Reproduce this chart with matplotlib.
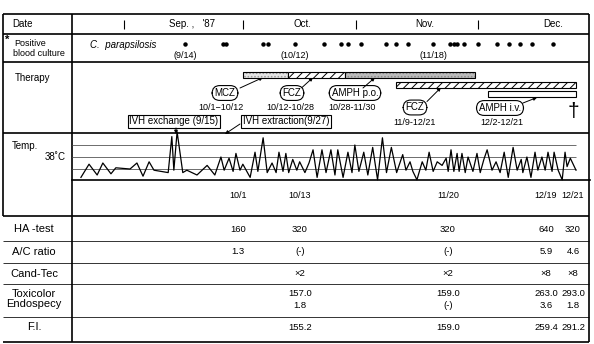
import numpy as np
import matplotlib.pyplot as plt

plt.rcParams['font.family'] = ['Liberation Sans', 'DejaVu Sans']
plt.rcParams['hatch.linewidth'] = 0.7

W, H = 594, 344  # canvas in pixels

### all days are counted from 1 Sep 1987
month_names = ["Sep. ,   '87", 'Oct.', 'Nov.', 'Dec.']
month_start = [0, 30, 61, 91]

culture_days = [13, 24, 25, 35, 36, 43, 51, 56, 58, 62, 67, 69, 72, 78,
                83, 84, 85, 87, 91, 94, 96.5, 99, 101.5, 106]
culture_notes = {13: '(9/14)', 43: '(10/12)', 78: '(11/18)'}

drugs = ['MCZ', 'FCZ', 'AMPH p.o.', 'FCZ', 'AMPH i.v.']
drug_start = [30, 41, 57, 69, 92]
drug_end = [41, 57, 90, 111, 111]
drug_dates = ['10/1\u221210/12', '10/12-10/28', '10/28-11/30', '11/9-12/21', '12/2-12/21']

temp_day = [-11.0, -9.0, -7.0, -5.6, -3.6, -2.4, 1.1, 2.8, 4.3, 5.8, 7.0, 10.5,
            11.4, 11.9, 12.7, 14.1, 15.1, 17.6, 20.1, 22.0, 23.5, 24.3, 25.5,
            26.5, 27.2, 28.2, 28.9, 30.7, 31.9, 32.6, 33.9, 34.9, 36.1, 37.1,
            37.8, 38.8, 39.5, 40.2, 41.2, 42.2, 42.9, 44.2, 45.2, 46.2, 47.2,
            48.4, 49.4, 50.6, 51.6, 52.3, 53.6, 54.8, 55.8, 56.5, 57.5, 58.7,
            59.7, 60.9, 62.1, 63.3, 64.3, 65.5, 66.8, 68.3, 69.1, 70.1, 70.8,
            71.8, 73.1, 74.0, 74.8, 75.8, 76.8, 78.0, 79.0, 79.5, 80.2, 80.9,
            81.7, 82.2, 82.9, 83.7, 84.4, 85.6, 86.6, 87.4, 88.3, 89.1, 90.3,
            91.3, 92.3, 93.3, 94.3, 95.5, 96.5, 97.5, 97.9, 98.9, 99.9, 100.9,
            101.6, 102.6, 103.4, 104.1, 105.1, 105.6, 106.6, 107.6, 108.3,
            108.8, 109.6, 111.0]
temp_c = [36.3, 37.4, 36.5, 37.5, 36.6, 37.1, 37.0, 37.5, 36.4, 37.6, 36.9, 36.7,
          39.7, 36.9, 40.1, 36.7, 36.9, 36.5, 37.3, 36.5, 38.0, 36.9, 37.9,
          36.8, 38.3, 36.9, 37.4, 36.3, 38.4, 36.8, 39.6, 36.7, 37.5, 36.7,
          38.4, 36.8, 38.3, 36.7, 37.8, 36.9, 37.6, 36.7, 37.5, 38.6, 36.3,
          38.6, 36.7, 38.6, 36.5, 38.6, 36.3, 38.4, 36.7, 39.0, 36.8, 38.4,
          36.5, 38.8, 36.1, 39.6, 36.7, 38.8, 36.7, 38.2, 36.9, 37.6, 36.8,
          36.1, 37.6, 36.9, 38.4, 36.8, 37.6, 37.3, 37.9, 36.8, 38.6, 36.8,
          38.3, 36.8, 38.3, 36.7, 38.0, 36.8, 38.3, 36.7, 37.8, 38.6, 36.9,
          37.6, 36.7, 38.4, 36.3, 38.8, 36.9, 37.8, 36.7, 38.0, 36.3, 38.4,
          36.9, 38.0, 36.9, 38.4, 36.8, 38.4, 36.9, 36.1, 38.4,
          37.2, 37.9, 36.9]

lab_dates = ['10/1', '10/13', '11/20', '12/19', '12/21']
lab_rows = ['HA -test', 'A/C ratio', 'Cand-Tec', 'Toxicolor\nEndospecy', 'F.I.']
ha_test = ['160', '320', '320', '640', '320']
ac_ratio = ['1.3', '(-)', '(-)', '5.9', '4.6']
cand_tec = ['', '\u00d72', '\u00d72', '\u00d78', '\u00d78']
toxicolor = ['', '157.0', '159.0', '263.0', '293.0']
endospecy = ['', '1.8', '(-)', '3.6', '1.8']
fi_value = ['', '155.2', '159.0', '259.4', '291.2']


def px_box(x0, y0, x1, y1):
    """axes rectangle from pixel corners (y measured from the top)"""
    return [x0 / W, 1 - y1 / H, (x1 - x0) / W, (y1 - y0) / H]


fig = plt.figure(figsize=(W / 100, H / 100), dpi=100)

### frame : table lines and row titles, in pixel units
frame = fig.add_axes([0, 0, 1, 1])
frame.set_xlim(0, W)
frame.set_ylim(H, 0)
frame.axis('off')

X_L, X_C, X_R = 3, 72, 589
frame.hlines([14, 34, 62, 133, 216], X_L, X_R, color='k', lw=1.2)
frame.hlines([241, 263, 284, 317], X_L, X_R, color='#333333', lw=0.7)
frame.hlines(342, X_L, X_R, color='k', lw=1.2)
frame.vlines(X_L, 14, 216, color='k', lw=1.2)
frame.vlines([X_C, X_R], 14, 342, color='k', lw=1.2)

frame.text(12, 24, 'Date', fontsize=7, va='center')
frame.text(5, 40, '*', fontsize=8, va='center', fontweight='bold')
frame.text(30, 44, 'Positive', fontsize=6.5, va='center', ha='center')
frame.text(39, 53, 'blood culture', fontsize=6.5, va='center', ha='center')
frame.text(90, 45, 'C.  parapsilosis', fontsize=7, va='center', style='italic')
frame.text(15, 78, 'Therapy', fontsize=7, va='center')
frame.text(12, 146, 'Temp.', fontsize=7, va='center')
frame.text(66, 157, '38\u02daC', fontsize=7, va='center', ha='right')

### timeline for culture + therapy rows (the hand drawn axis is not uniform)
anchor_day = [-11, 0, 13, 30, 41, 57, 61, 69, 78, 91, 92, 111, 114]
anchor_px = [72, 124, 185, 243, 288, 345, 356, 396, 433, 478, 488, 576, 590]
tl = fig.add_axes(px_box(72, 14, 590, 133))
tl.set_xscale('function', functions=(lambda d: np.interp(d, anchor_day, anchor_px),
                                     lambda p: np.interp(p, anchor_px, anchor_day)))
tl.set_xlim(-11, 114)
tl.set_ylim(133, 14)
tl.axis('off')
tl.patch.set_alpha(0)

tl.vlines(month_start, 19.5, 28.5, color='k', lw=0.8)
for s, name in zip(month_start, month_names):
    tl.text(s + 15, 24, name, fontsize=7, ha='center', va='center')

tl.plot(culture_days, np.full(len(culture_days), 44), 'o', color='k', ms=2.2)
for d, note in culture_notes.items():
    tl.text(d, 56, note, fontsize=6.5, ha='center', va='center')

bar_y = [74.5, 74.5, 74.5, 84.5, 94]
bar_fc = ['#e6e6e6', 'white', '#bcbcbc', 'white', 'white']
bar_hc = ['#9a9a9a', 'k', '#8a8a8a', 'k', 'k']
bar_hatch = ['.....', '////', '.....', '////', None]
for i in range(len(drugs)):
    w = drug_end[i] - drug_start[i]
    tl.barh(bar_y[i], w, left=drug_start[i], height=6, color=bar_fc[i],
            edgecolor=bar_hc[i], hatch=bar_hatch[i], linewidth=0)
    tl.barh(bar_y[i], w, left=drug_start[i], height=6, fill=False,
            edgecolor='k', linewidth=0.8)

### therapy labels and arrows (pixel units)
label_xy = [(225, 93), (292, 93), (355, 93), (415, 107.5), (500, 108)]
date_xy = [(221, 107), (290, 107), (352, 107), (415, 122.5), (502, 122.5)]
arrow_from = [(240, 88), (302, 87.5), (363, 88), (427, 101.5), (523, 103)]
arrow_to = [(263, 77.5), (313, 77.5), (375, 77.5), (441, 87.5), (537, 97.5)]
for i in range(len(drugs)):
    frame.text(*label_xy[i], drugs[i], fontsize=7, ha='center', va='center',
               bbox=dict(boxstyle='round,pad=0.25,rounding_size=0.8', fc='white', ec='k', lw=0.8))
    frame.text(*date_xy[i], drug_dates[i], fontsize=6.5, ha='center', va='center')
    frame.annotate('', xy=arrow_to[i], xytext=arrow_from[i],
                   arrowprops=dict(arrowstyle='-|>', color='k', lw=0.7,
                                   mutation_scale=5, shrinkA=0, shrinkB=0))
frame.text(573, 111, '\u2020', fontsize=15, ha='center', va='center')

frame.text(174, 121.5, 'IVH exchange (9/15)', fontsize=7, ha='center', va='center',
           bbox=dict(boxstyle='square,pad=0.15', fc='white', ec='k', lw=0.8))
frame.text(286, 121.5, 'IVH extraction(9/27)', fontsize=7, ha='center', va='center',
           bbox=dict(boxstyle='square,pad=0.15', fc='white', ec='k', lw=0.8))
frame.annotate('', xy=(176, 134), xytext=(176, 128),
               arrowprops=dict(arrowstyle='-|>', color='k', lw=0.7, mutation_scale=5,
                               shrinkA=0, shrinkB=0))
frame.annotate('', xy=(225, 134), xytext=(240, 124),
               arrowprops=dict(arrowstyle='-|>', color='k', lw=0.7, mutation_scale=5,
                               shrinkA=0, shrinkB=0))

### temperature chart
tp = fig.add_axes(px_box(72, 134, 590, 180))
tp.set_xlim(-13.2, 114.45)
tp.set_ylim(38 - 23 / 12, 38 + 23 / 12)
tp.hlines([37, 38, 39], -13.2, 111, color='#555555', lw=0.6)
tp.plot(temp_day, temp_c, color='k', lw=0.9, clip_on=False)
for s in ['top', 'left', 'right']:
    tp.spines[s].set_visible(False)
tp.spines['bottom'].set_linewidth(1.2)
tp.set_xticks([])
tp.set_yticks([])
tp.patch.set_alpha(0)

### laboratory table
col_x = [238, 300, 448, 546, 573]
for cx, d in zip(col_x, lab_dates):
    frame.text(cx, 196, d, fontsize=6.5, ha='center', va='center')

row_y = [229, 252, 274, 299, 327]
for ry, name in zip(row_y, lab_rows):
    frame.text(34, ry, name, fontsize=8, ha='center', va='center', linespacing=0.9)

value_rows = [(229, ha_test), (252, ac_ratio), (274, cand_tec),
              (293, toxicolor), (305, endospecy), (327, fi_value)]
for ry, vals in value_rows:
    for cx, v in zip(col_x, vals):
        frame.text(cx, ry, v, fontsize=6.8, ha='center', va='center')

fig.savefig('out.png', dpi=100)
